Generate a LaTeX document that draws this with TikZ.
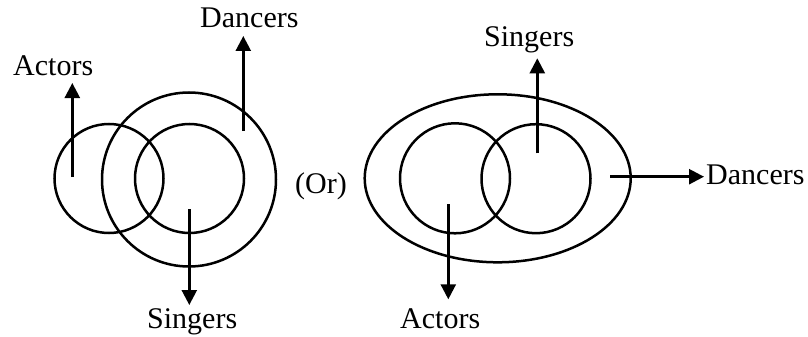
\documentclass[tikz,border=0pt]{standalone}
\usepackage{fontspec}
\setmainfont{Liberation Serif}
\usetikzlibrary{positioning,arrows.meta,shapes.geometric}

\begin{document}
\begin{tikzpicture}[x=1pt,y=-1pt,font=\fontsize{30}{34}\selectfont,
      set/.style={draw,circle,line width=2.5pt,inner sep=0pt},
      lbl/.style={anchor=base west,inner sep=0pt},
      arr/.style={line width=2.5pt,-{Triangle[length=15pt,width=15pt]}}]
    \useasboundingbox (0,0) rectangle (808,337);
    % left picture
    \node[set,minimum size=109pt] (act) at (109,178.5) {};
    \node[set,minimum size=174pt] (dan) at (189,179.5) {};
    \node[set,minimum size=109pt] (sng) at (189.5,178.5) {};
    \node[lbl] (actL) at (13,75) {Actors};
    \node[lbl] (danL) at (200,28) {Dancers};
    \node[lbl] (sngL) at (147,328) {Singers};
    \coordinate (a1) at (72.3,177);   \coordinate (a2) at (72.3,83);
    \coordinate (d1) at (243.3,131);  \coordinate (d2) at (243.3,36);
    \coordinate (s1) at (189.3,209);  \coordinate (s2) at (189.3,305);
    \draw[arr] (a1) -- (a2);
    \draw[arr] (d1) -- (d2);
    \draw[arr] (s1) -- (s2);
    \node[lbl] (or) at (295,193) {(Or)};
    % right picture
    \node[draw,ellipse,line width=2.5pt,inner sep=0pt,minimum width=266pt,minimum height=168pt] (danR) at (497.7,178.3) {};
    \node[set,minimum size=110pt] (actR) at (455,178.3) {};
    \node[set,minimum size=109pt] (sngR) at (536,178.7) {};
    \node[lbl] (sngRL) at (484,46.7) {Singers};
    \node[lbl] (danRL) at (706,184) {Dancers};
    \node[lbl] (actRL) at (400,328) {Actors};
    \coordinate (s3) at (537.3,153.3); \coordinate (s4) at (537.3,58.3);
    \coordinate (d3) at (610,176.7);   \coordinate (d4) at (704,176.7);
    \coordinate (a3) at (448.3,204);   \coordinate (a4) at (448.3,299.3);
    \draw[arr] (s3) -- (s4);
    \draw[arr] (d3) -- (d4);
    \draw[arr] (a3) -- (a4);
  \end{tikzpicture}
\end{document}
